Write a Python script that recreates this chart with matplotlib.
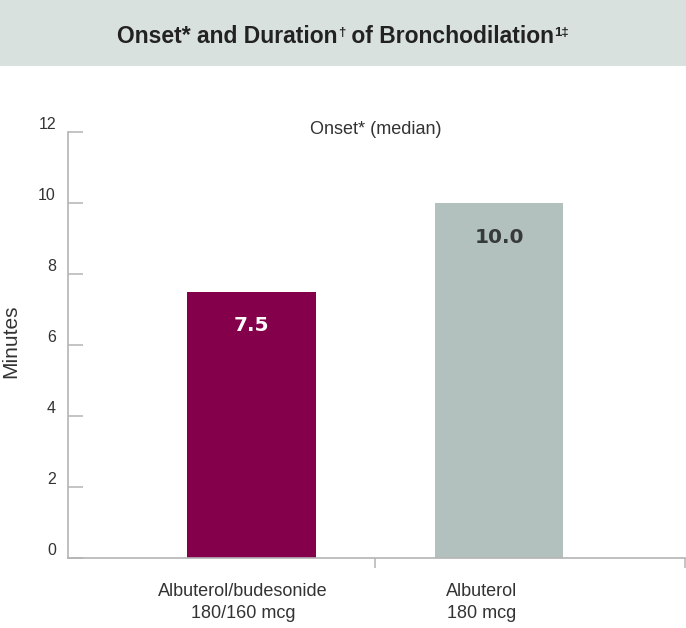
"""Onset of bronchodilation bar chart (median minutes to onset)."""

import matplotlib

matplotlib.use("Agg")
import matplotlib.pyplot as plt
from matplotlib.patches import Rectangle

CATEGORIES = ["Albuterol/budesonide\n180/160 mcg", "Albuterol\n180 mcg"]
VALUES = [7.5, 10.0]
VALUE_LABELS = ["7.5", "10.0"]
Y_TICKS = [0, 2, 4, 6, 8, 10, 12]

# title pieces: (text, is_superscript)
TITLE_PARTS = [
    ("Onset* and Duration", False),
    ("†", True),
    (" of Bronchodilation", False),
    ("1‡", True),
]

BAR_COLORS = ["#85004b", "#b3c1be"]
VALUE_COLORS = ["#ffffff", "#363a3a"]
BAND = "#d9e1de"
INK = "#222222"
INK_SOFT = "#333333"
AXIS = "#b4b4b4"

W, H, DPI = 686, 628, 100

plt.rcParams["font.family"] = ["Liberation Sans", "DejaVu Sans"]

fig = plt.figure(figsize=(W / DPI, H / DPI), dpi=DPI)
fig.patch.set_facecolor("white")

# title band
fig.patches.append(
    Rectangle((0, 1 - 66 / H), 1, 66 / H, transform=fig.transFigure,
              facecolor=BAND, edgecolor="none", zorder=0)
)

# title laid out piece by piece so the superscripts stay small and tight
renderer = fig.canvas.get_renderer()
baseline_y = 1 - 43 / H
pieces = []
for txt, sup in TITLE_PARTS:
    t = fig.text(0, baseline_y + (7 / H if sup else 0), txt,
                 fontsize=9.5 if sup else 16.5, fontweight="bold", color=INK,
                 ha="left", va="baseline")
    pieces.append(t)
widths = [p.get_window_extent(renderer).width for p in pieces]
x0 = 343 - sum(widths) / 2
for p, w in zip(pieces, widths):
    p.set_x(x0 / W)
    x0 += w

# axes in pixel terms: x 67.7..685, y 558.3 (0) .. 132 (12)
ax = fig.add_axes([67.7 / W, (H - 558.3) / H, (685 - 67.7) / W, (558.3 - 132) / H])
ax.set_facecolor("none")

x = list(range(len(CATEGORIES)))
ax.bar(x, VALUES, width=0.521, color=BAR_COLORS, zorder=2)

ax.set_xlim(-0.7426, 1.7515)
ax.set_ylim(0, 12)

for side in ("top", "right"):
    ax.spines[side].set_visible(False)
for side in ("left", "bottom"):
    ax.spines[side].set_color(AXIS)
    ax.spines[side].set_linewidth(1.2)

ax.set_yticks(Y_TICKS)
ax.set_yticklabels([str(t) for t in Y_TICKS])
ax.tick_params(axis="y", direction="in", length=10.5, width=1.1, color=AXIS,
               pad=8.5, labelsize=11.5, labelcolor=INK_SOFT)
for lbl in ax.get_yticklabels():
    lbl.set_verticalalignment("bottom")

ax.set_xticks([0.499, 1.7515])
ax.set_xticklabels(["", ""])
ax.tick_params(axis="x", direction="out", length=7.5, width=1.1, color=AXIS)

# category labels sit a little left of their bars
label_offsets = [-0.034, -0.07]
for i, (name, off) in enumerate(zip(CATEGORIES, label_offsets)):
    ax.annotate(name, xy=(i + off, 0), xytext=(0, -32), textcoords="offset points",
                ha="center", va="center", fontsize=13, color=INK_SOFT,
                linespacing=1.35, annotation_clip=False)

for i, (v, txt, c) in enumerate(zip(VALUES, VALUE_LABELS, VALUE_COLORS)):
    ax.annotate(txt, xy=(i, v), xytext=(0, -24.5), textcoords="offset points",
                ha="center", va="center", fontsize=14.5, fontweight="bold",
                color=c, family="DejaVu Sans", zorder=3)

fig.text(376 / W, 1 - 129 / H, "Onset* (median)", ha="center", va="center",
         fontsize=13, color=INK_SOFT)
fig.text(11 / W, 1 - 341.5 / H, "Minutes", ha="center", va="center",
         rotation=90, fontsize=15, color=INK_SOFT)

fig.savefig("out.png", dpi=DPI, facecolor=fig.get_facecolor())
